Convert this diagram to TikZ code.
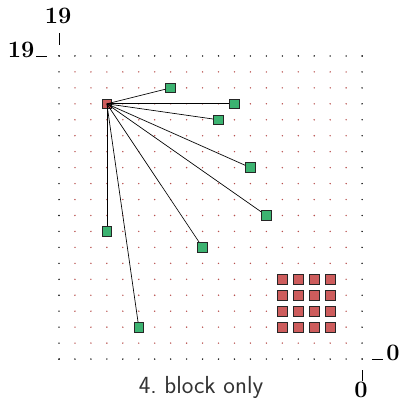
\documentclass[tikz,border=0pt]{standalone}
\usepackage{xcolor}
\usepackage{tikz}
\usetikzlibrary{positioning}
\definecolor{srcred}{HTML}{CD5C5C}
\definecolor{dstgreen}{HTML}{3CB371}
\definecolor{dotred}{HTML}{B8504E}
\definecolor{captiongray}{HTML}{333333}
\tikzset{
    cell/.style={rectangle, draw=black!85, line width=0.8pt, minimum size=8.6pt, inner sep=0pt},
    source/.style={cell, fill=srcred},
    target/.style={cell, fill=dstgreen},
    blockcell/.style={cell, fill=srcred},
    link/.style={black, line width=0.6pt},
    ticks/.style={black, line width=0.5pt},
    axislabel/.style={font=\fontsize{21}{24}\selectfont\bfseries, inner sep=0pt},
    caption/.style={font=\fontsize{22}{26}\selectfont\sffamily, text=captiongray, inner sep=0pt}
}

\begin{document}
\begin{tikzpicture}[x=0.5cm, y=0.5cm]
    \useasboundingbox (-3.70,-2.63) rectangle (21.32,22.51);

    % grid of dots
    \foreach \i in {1,...,18}
        \foreach \j in {1,...,18}
            \fill [dotred] (\i,\j) circle (0.7pt);
    \foreach \k in {0,...,19} {
        \fill (\k,0) circle (0.7pt);
        \fill (\k,19) circle (0.7pt);
        \fill (0,\k) circle (0.7pt);
        \fill (19,\k) circle (0.7pt);
    }

    % axis labels
    \node [axislabel] (xtop) at (-0.06,21.5) {19};
    \node [axislabel] (yleft) at (-2.38,19.37) {19};
    \node [axislabel] (yright) at (20.94,0.41) {0};
    \node [axislabel] (xbot) at (18.93,-1.92) {0};
    \draw [ticks] (0,19.69) -- (0,20.44);
    \draw [ticks] (-1.44,19) -- (-0.75,19);
    \draw [ticks] (19.62,0) -- (20.31,0);
    \draw [ticks] (19,-0.69) -- (19,-1.40);

    % source and targets
    \node [source] (src) at (3,16) {};
    \node [target] (t1) at (7,17) {};
    \node [target] (t2) at (11,16) {};
    \node [target] (t3) at (10,15) {};
    \node [target] (t4) at (12,12) {};
    \node [target] (t5) at (13,9) {};
    \node [target] (t6) at (3,8) {};
    \node [target] (t7) at (9,7) {};
    \node [target] (t8) at (5,2) {};

    \foreach \t in {t1,t2,t3,t4,t5,t6,t7,t8}
        \draw [link] (src.center) -- (\t);

    % block
    \foreach \i in {14,...,17}
        \foreach \j in {2,...,5}
            \node [blockcell] (b\i\j) at (\i,\j) {};

    \node [caption, anchor=base] (cap) at (8.9,-2.13) {4.\ block only};
\end{tikzpicture}
\end{document}
